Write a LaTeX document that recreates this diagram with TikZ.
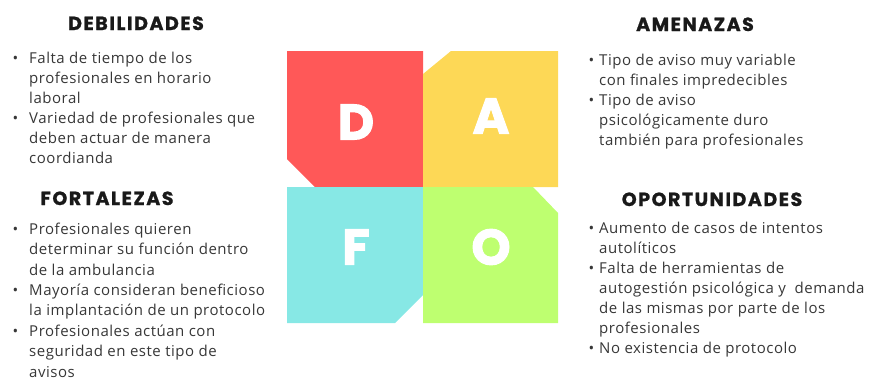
\documentclass[tikz,border=0pt]{standalone}
\usepackage{fontspec}
\setmainfont{Open Sans}[LetterSpace=3.5]
\newfontfamily\headfont{Poppins}[LetterSpace=8,FakeBold=1]
\newfontfamily\letterfont{Poppins}[FakeBold=2]

\definecolor{dRed}{RGB}{255,88,88}
\definecolor{aYellow}{RGB}{253,216,86}
\definecolor{fCyan}{RGB}{135,232,229}
\definecolor{oGreen}{RGB}{190,255,112}
\definecolor{bodyGray}{RGB}{55,55,55}

\newcommand{\bl}{\llap{\textbullet\hspace{11pt}}}
\newcommand{\br}{\llap{\textbullet\hspace{5pt}}}

\tikzset{
	heading/.style={anchor=base, inner sep=0pt, text=black!90,
		font=\headfont\bfseries\fontsize{19}{20}\selectfont},
	itemlist/.style={anchor=north west, inner sep=0pt, align=left, text=bodyGray,
		font=\fontsize{15}{#1}\selectfont},
	itemlist/.default=20,
	bigletter/.style={text=white, inner sep=0pt,
		font=\letterfont\bfseries\fontsize{50}{50}\selectfont}
}

\begin{document}
\begin{tikzpicture}[x=1pt,y=-1pt]
		\useasboundingbox (0,0) rectangle (872,381);

		% Draw the four coloured tiles
		\fill[dRed] (287,51) -- (423,51) -- (423,187) -- (315,187) -- (287,159) -- cycle;
		\fill[aYellow] (451,51) -- (558,51) -- (558,187) -- (423,187) -- (423,74) -- cycle;
		\fill[fCyan] (287,187) -- (423,187) -- (423,295) -- (395,323) -- (287,323) -- cycle;
		\fill[oGreen] (423,187) -- (533,187) -- (558,213) -- (558,323) -- (423,323) -- cycle;

		\node[bigletter] (letD) at (356,122) {D};
		\node[bigletter] (letA) at (491,116) {A};
		\node[bigletter] (letF) at (356,247) {F};
		\node[bigletter] (letO) at (491,247) {O};

		% -----------------------------------------------------
		% left column
		\node[heading] (debil) at (136,30) {DEBILIDADES};
		\node[itemlist] (debilList) at (29,63-14) {\strut\bl Falta de tiempo de los\\
			profesionales en horario\\
			laboral\\
			\bl Variedad de profesionales que\\
			deben actuar de manera\\
			coordianda};

		\node[heading] (fortal) at (107,205) {FORTALEZAS};
		\node[itemlist=20.4] (fortalList) at (29,234-14.28) {\strut\bl Profesionales quieren\\
			determinar su función dentro\\
			de la ambulancia\\
			\bl Mayoría consideran beneficioso\\
			la implantación de un protocolo\\
			\bl Profesionales actúan con\\
			seguridad en este tipo de\\
			avisos};

		% -----------------------------------------------------
		% right column
		\node[heading] (amen) at (695,31) {AMENAZAS};
		\node[itemlist] (amenList) at (599,65-14) {\strut\br Tipo de aviso muy variable\\
			con finales impredecibles\\
			\br Tipo de aviso\\
			psicológicamente duro\\
			también para profesionales};

		\node[heading] (oport) at (712,206) {OPORTUNIDADES};
		\node[itemlist] (oportList) at (599,233-14) {\strut\br Aumento de casos de intentos\\
			autolíticos\\
			\br Falta de herramientas de\\
			autogestión psicológica y~ demanda\\
			de las mismas por parte de los\\
			profesionales\\
			\br No existencia de protocolo};

\end{tikzpicture}
\end{document}
